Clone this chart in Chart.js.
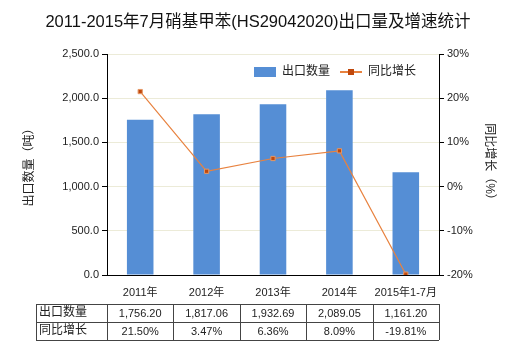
<!DOCTYPE html>
<html>
<head>
<meta charset="utf-8">
<script src="https://cdn.jsdelivr.net/npm/chart.js@4.4.1/dist/chart.umd.min.js"></script>
<style>
  body { margin: 0; background: #fff; }
  #wrap { width: 520px; height: 350px; }
</style>
</head>
<body>
<div id="wrap"><canvas id="chart" width="520" height="350"></canvas></div>
<script>
let years = ['2011年', '2012年', '2013年', '2014年', '2015年1-7月'];
let exportQty = [1756.20, 1817.06, 1932.69, 2089.05, 1161.20];
let growth = [21.50, 3.47, 6.36, 8.09, -19.81];
let qtyTicks = [0, 500, 1000, 1500, 2000, 2500];
let growthTicks = [-20, -10, 0, 10, 20, 30];

const fontFamily = '"Liberation Sans", "Noto Sans CJK SC", sans-serif';
const barColor = '#558ed5';
const lineColor = '#e8823f';
const pointColor = '#c0480c';

function fmtQty(v) {
  return v.toLocaleString('en-US', { minimumFractionDigits: 2, maximumFractionDigits: 2 });
}

// title, legend and data table under the axis
const extras = {
  id: 'extras',
  afterDraw(chart) {
    const ctx = chart.ctx;
    const x = chart.scales.x;
    ctx.save();

    ctx.fillStyle = '#111';
    ctx.font = '16.5px ' + fontFamily;
    ctx.textAlign = 'center';
    ctx.textBaseline = 'middle';
    ctx.fillText('2011-2015年7月硝基甲苯(HS29042020)出口量及增速统计', 258, 22);

    // legend
    ctx.font = '12px ' + fontFamily;
    ctx.textAlign = 'left';
    ctx.fillStyle = barColor;
    ctx.fillRect(254, 67, 22, 10);
    ctx.fillStyle = '#222';
    ctx.fillText('出口数量', 282, 72);
    ctx.strokeStyle = lineColor;
    ctx.lineWidth = 2;
    ctx.beginPath();
    ctx.moveTo(340, 72);
    ctx.lineTo(362, 72);
    ctx.stroke();
    ctx.fillStyle = pointColor;
    ctx.fillRect(348, 69, 6, 6);
    ctx.fillStyle = '#222';
    ctx.fillText('同比增长', 368, 72);

    // table
    const step = x.width / years.length;
    const left = 36, top = 304, rowH = 18;
    const edges = [left];
    for (let i = 0; i <= years.length; i++) edges.push(x.left + i * step);
    ctx.strokeStyle = '#444';
    ctx.lineWidth = 1;
    for (let r = 0; r <= 2; r++) {
      ctx.beginPath();
      ctx.moveTo(left, top + r * rowH + 0.5);
      ctx.lineTo(x.right, top + r * rowH + 0.5);
      ctx.stroke();
    }
    edges.forEach(e => {
      ctx.beginPath();
      ctx.moveTo(Math.round(e) + 0.5, top);
      ctx.lineTo(Math.round(e) + 0.5, top + 2 * rowH);
      ctx.stroke();
    });
    ctx.fillStyle = '#222';
    ctx.font = '12px ' + fontFamily;
    ctx.textAlign = 'left';
    ctx.fillText('出口数量', left + 3, top + rowH / 2);
    ctx.fillText('同比增长', left + 3, top + rowH * 1.5);
    ctx.textAlign = 'center';
    ctx.font = '11px ' + fontFamily;
    years.forEach((y, i) => {
      const cx = x.getPixelForValue(i);
      ctx.fillText(fmtQty(exportQty[i]), cx, top + rowH / 2 + 1);
      ctx.fillText(growth[i].toFixed(2) + '%', cx, top + rowH * 1.5 + 1);
    });
    ctx.restore();
  }
};

new Chart(document.getElementById('chart'), {
  data: {
    labels: years,
    datasets: [
      {
        type: 'line',
        label: '同比增长',
        data: growth,
        yAxisID: 'y1',
        borderColor: lineColor,
        borderWidth: 1.2,
        tension: 0,
        pointStyle: 'rect',
        pointRadius: 3,
        pointBackgroundColor: pointColor,
        pointBorderColor: '#e59866',
        pointBorderWidth: 1,
        order: 0
      },
      {
        type: 'bar',
        label: '出口数量',
        data: exportQty,
        yAxisID: 'y',
        backgroundColor: barColor,
        categoryPercentage: 1,
        barPercentage: 0.4,
        order: 1
      }
    ]
  },
  options: {
    responsive: false,
    animation: false,
    layout: { padding: { top: 54, left: 0, right: 0, bottom: 0 } },
    plugins: {
      legend: { display: false },
      tooltip: { enabled: false }
    },
    scales: {
      x: {
        grid: { display: false },
        border: { display: true, color: '#000', width: 1 },
        ticks: { color: '#222', font: { size: 11, family: fontFamily }, padding: 3, maxRotation: 0 },
        afterFit(s) { s.height = 75; }
      },
      y: {
        position: 'left',
        min: 0,
        max: 2500,
        afterBuildTicks(s) { s.ticks = qtyTicks.map(v => ({ value: v })); },
        ticks: {
          color: '#222',
          font: { size: 11, family: fontFamily },
          padding: 3,
          callback: v => v.toLocaleString('en-US', { minimumFractionDigits: 1, maximumFractionDigits: 1 })
        },
        grid: { color: '#ecebd8', tickColor: '#000', tickLength: 5 },
        border: { display: true, color: '#000', width: 1 },
        title: {
          display: true,
          text: '出口数量（吨）',
          color: '#222',
          font: { size: 12, family: fontFamily },
          padding: { top: 22, bottom: 0 }
        },
        afterFit(s) { s.width = 107; }
      },
      y1: {
        position: 'right',
        min: -20,
        max: 30,
        afterBuildTicks(s) { s.ticks = growthTicks.map(v => ({ value: v })); },
        ticks: {
          color: '#222',
          font: { size: 11, family: fontFamily },
          padding: 3,
          callback: v => v + '%'
        },
        grid: { drawOnChartArea: false, tickColor: '#000', tickLength: 5 },
        border: { display: true, color: '#000', width: 1 },
        title: {
          display: true,
          text: '同比增长（%）',
          color: '#222',
          font: { size: 12, family: fontFamily },
          padding: { top: 23, bottom: 0 }
        },
        afterFit(s) { s.width = 81; }
      }
    }
  },
  plugins: [extras]
});
</script>
</body>
</html>
